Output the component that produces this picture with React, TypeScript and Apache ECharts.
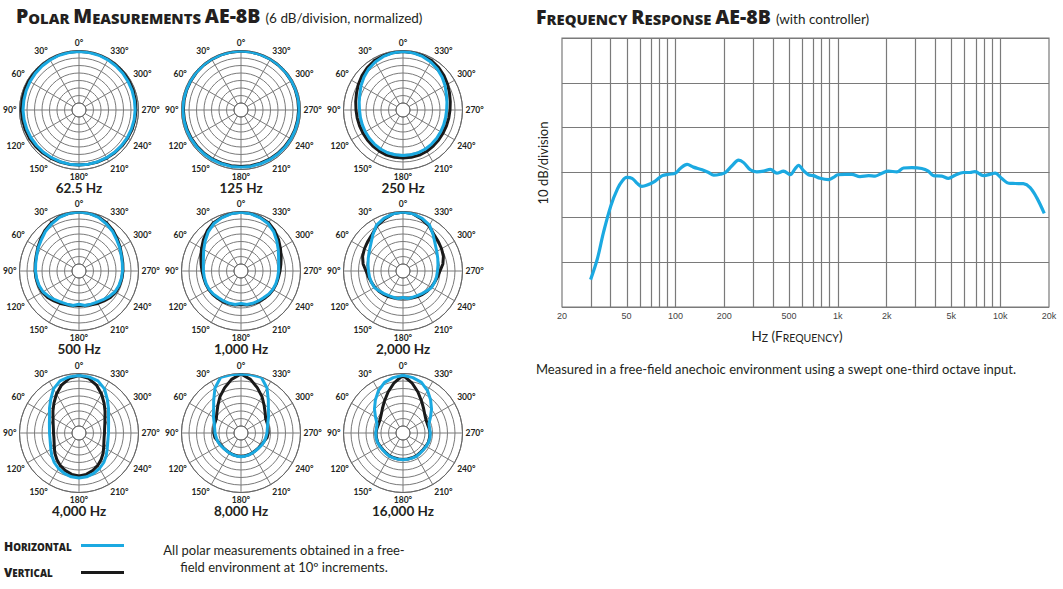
import React, { useEffect, useRef } from 'react';
import * as echarts from 'echarts';

// ---------- Polar data (dB, 6 dB/division, normalized) at 10° increments ----------
const polarAngles = [0, 10, 20, 30, 40, 50, 60, 70, 80, 90, 100, 110, 120, 130, 140, 150, 160, 170,
  180, 190, 200, 210, 220, 230, 240, 250, 260, 270, 280, 290, 300, 310, 320, 330, 340, 350];

const polarTitles = ['62.5 Hz', '125 Hz', '250 Hz', '500 Hz', '1,000 Hz', '2,000 Hz', '4,000 Hz', '8,000 Hz', '16,000 Hz'];

const h62 = [-0.8,-0.9,-1.0,-1.4,-1.7,-2.0,-2.3,-2.6,-2.8,-2.8,-3.0,-3.1,-3.2,-3.4,-3.5,-3.6,-3.6,-3.6,-3.6,-3.6,-3.6,-3.5,-3.4,-3.3,-3.1,-3.0,-2.8,-2.7,-2.6,-2.4,-2.2,-1.9,-1.6,-1.3,-1.0,-0.9];
const v62 = [-0.6,-0.6,-0.7,-0.8,-0.9,-1.0,-1.0,-1.2,-1.4,-1.5,-1.7,-1.8,-2.0,-2.3,-2.6,-3.0,-3.3,-3.4,-3.6,-3.6,-3.4,-3.2,-3.0,-2.8,-2.6,-2.3,-2.2,-2.0,-1.8,-1.5,-1.2,-1.0,-0.8,-0.7,-0.6,-0.6];
const h125 = [-0.5,-0.5,-0.6,-0.6,-0.7,-0.8,-0.9,-1.0,-1.0,-1.1,-1.2,-1.3,-1.4,-1.5,-1.6,-1.7,-1.8,-1.8,-1.9,-1.8,-1.8,-1.7,-1.6,-1.5,-1.4,-1.3,-1.2,-1.1,-1.0,-1.0,-0.9,-0.8,-0.7,-0.6,-0.6,-0.5];
const v125 = [-0.5,-0.6,-0.7,-0.8,-0.9,-1.0,-1.2,-1.3,-1.4,-1.5,-1.6,-1.8,-1.9,-2.0,-2.1,-2.2,-2.3,-2.4,-2.4,-2.4,-2.3,-2.2,-2.1,-2.0,-1.9,-1.7,-1.6,-1.5,-1.4,-1.3,-1.1,-1.0,-0.9,-0.7,-0.6,-0.5];
const h250 = [-0.8,-1.2,-2.0,-3.2,-4.8,-6.8,-8.8,-10.8,-12.0,-12.8,-13.0,-13.0,-12.8,-12.4,-12.0,-11.6,-11.2,-11.2,-11.2,-11.2,-11.3,-11.6,-12.0,-12.4,-12.8,-13.0,-13.0,-12.7,-11.9,-10.7,-8.7,-6.7,-4.8,-3.2,-2.0,-1.2];
const v250 = [-0.8,-1.0,-1.4,-2.0,-3.2,-4.8,-6.4,-8.0,-9.2,-10.0,-10.4,-10.6,-10.6,-10.4,-10.0,-9.6,-9.2,-9.2,-9.2,-9.2,-9.2,-9.5,-10.0,-10.4,-10.6,-10.6,-10.4,-10.0,-9.2,-8.0,-6.4,-4.8,-3.2,-2.0,-1.4,-1.0];
const h500 = [-0.4,-0.8,-2.0,-4.0,-6.0,-8.4,-10.0,-11.6,-12.4,-12.8,-13.2,-13.6,-14.4,-16.0,-17.6,-18.8,-19.4,-19.6,-21.0,-19.6,-19.4,-18.8,-17.6,-16.0,-14.4,-13.6,-13.2,-12.8,-12.4,-11.6,-10.0,-8.4,-6.0,-4.0,-2.0,-0.8];
const v500 = [-0.4,-0.8,-1.6,-3.2,-5.2,-7.6,-9.6,-11.2,-12.0,-12.4,-12.8,-13.2,-13.6,-14.8,-16.4,-17.6,-18.8,-19.6,-20.0,-19.6,-18.8,-17.6,-16.4,-14.8,-13.6,-13.2,-12.8,-12.4,-12.0,-11.2,-9.6,-7.6,-5.2,-3.2,-1.6,-0.8];
const h1k = [-0.6,-1.2,-2.4,-4.0,-6.8,-10.2,-13.2,-15.6,-17.0,-17.5,-17.8,-17.9,-18.2,-18.8,-19.6,-19.9,-20.1,-20.4,-21.6,-20.4,-20.1,-19.9,-19.6,-18.8,-18.2,-17.9,-17.8,-17.5,-17.0,-15.6,-13.2,-10.2,-6.8,-4.0,-2.4,-1.2];
const v1k = [-0.6,-1.0,-2.0,-3.2,-5.6,-8.4,-11.2,-13.4,-15.2,-16.4,-17.2,-17.5,-17.8,-18.2,-18.8,-19.2,-19.6,-20.0,-20.8,-20.0,-19.6,-19.2,-18.8,-18.2,-17.8,-17.5,-17.2,-16.4,-15.2,-13.4,-11.2,-8.4,-5.6,-3.2,-2.0,-1.0];
const h2k = [-0.4,-1.2,-2.8,-5.2,-10.0,-14.0,-16.4,-18.0,-19.2,-20.0,-20.4,-20.8,-21.2,-22.8,-24.0,-24.8,-25.2,-25.2,-26.4,-25.2,-25.2,-24.8,-24.0,-22.8,-21.2,-20.8,-20.4,-20.0,-19.2,-18.0,-16.4,-14.0,-10.0,-5.2,-2.8,-1.2];
const v2k = [-0.4,-1.2,-3.6,-6.0,-9.2,-10.8,-12.0,-13.2,-15.2,-18.0,-19.6,-20.8,-21.6,-22.4,-23.2,-24.0,-24.8,-25.6,-26.0,-25.6,-24.8,-24.0,-23.2,-22.4,-21.6,-20.8,-19.6,-18.0,-15.2,-13.2,-12.0,-10.8,-9.2,-6.0,-3.6,-1.2];
const h4k = [-1.6,-2.0,-3.2,-6.8,-12.4,-16.8,-20.4,-22.4,-23.6,-24.0,-24.0,-23.2,-21.6,-19.2,-16.8,-14.8,-13.2,-12.0,-11.6,-12.0,-13.2,-14.8,-16.8,-19.2,-21.6,-23.2,-24.0,-24.0,-23.6,-22.4,-20.4,-16.8,-12.4,-6.8,-3.2,-2.0];
const v4k = [-1.6,-3.2,-6.8,-11.6,-16.4,-20.4,-23.6,-25.6,-26.8,-27.2,-27.2,-26.4,-24.8,-22.4,-20.0,-17.6,-15.6,-14.0,-13.2,-14.0,-15.6,-17.6,-20.0,-22.4,-24.8,-26.4,-27.2,-27.2,-26.8,-25.6,-23.6,-20.4,-16.4,-11.6,-6.8,-3.2];
const h8k = [-0.4,-0.3,-0.2,-6.0,-13.6,-19.0,-22.2,-24.8,-26.2,-26.8,-27.4,-27.8,-28.4,-29.0,-29.2,-29.1,-29.0,-28.8,-28.6,-28.8,-29.0,-29.1,-29.2,-29.0,-28.4,-27.8,-27.4,-26.8,-26.2,-24.8,-22.2,-19.0,-13.6,-6.0,-0.2,-0.3];
const v8k = [-0.4,-4.0,-9.2,-14.0,-18.8,-22.4,-24.8,-25.2,-25.6,-25.8,-26.4,-28.0,-28.7,-29.2,-29.4,-29.3,-29.1,-29.0,-28.8,-29.0,-29.1,-29.3,-29.4,-29.2,-28.7,-28.0,-26.4,-25.8,-25.6,-25.2,-24.8,-22.4,-18.8,-14.0,-9.2,-4.0];
const h16k = [-1.4,-2.6,-4.5,-8.4,-13.2,-17.8,-22.2,-25.5,-26.0,-25.8,-25.7,-25.8,-26.2,-26.5,-26.4,-26.1,-26.2,-26.2,-26.2,-26.2,-26.2,-26.1,-26.4,-26.5,-26.2,-25.8,-25.7,-25.8,-26.0,-25.5,-22.2,-17.8,-13.2,-8.4,-4.5,-2.6];
const v16k = [-1.4,-6.8,-12.7,-18.0,-22.0,-24.8,-26.4,-26.8,-26.4,-26.0,-26.0,-26.0,-26.5,-26.8,-26.7,-26.4,-26.5,-26.5,-26.5,-26.5,-26.5,-26.4,-26.7,-26.8,-26.5,-26.0,-26.0,-26.0,-26.4,-26.8,-26.4,-24.8,-22.0,-18.0,-12.7,-6.8];

const horizontalSets = [h62, h125, h250, h500, h1k, h2k, h4k, h8k, h16k];
const verticalSets = [v62, v125, v250, v500, v1k, v2k, v4k, v8k, v16k];

// ---------- Frequency response data ----------
const frFreqs = [30, 33, 36, 40, 44, 47, 50, 54, 58, 62, 67, 75, 83, 91, 100, 107, 118, 129, 146, 160, 172, 189, 203, 223, 245, 263, 289, 317, 349, 384, 421, 463, 509, 547, 573, 615, 660, 709, 779, 877, 941, 1000, 1110, 1220, 1370, 1550, 1700, 1870, 2050, 2310, 2540, 2860, 3290, 3610, 3880, 4370, 4800, 5280, 5940, 6520, 7000, 7890, 8880, 9310, 10200, 11300, 12400, 13900, 15300, 16800, 18700];
const frLevels = [-23.9, -19.3, -13.4, -7.4, -3.6, -1.9, -1.1, -1.3, -2.4, -3.1, -2.8, -1.9, -0.7, -0.4, -0.15, 0.9, 1.8, 1.2, 0.6, 0, -0.6, -0.4, 0, 1.5, 2.75, 2.2, 0.6, 0.15, 0.3, 0.7, -0.15, 0.3, -0.5, 0.9, 1.6, 0.4, -0.5, -0.7, -1.3, -1.6, -1.1, -0.5, -0.4, -0.4, -0.9, -0.7, -0.8, -0.15, 0.3, 0.15, 1.0, 1.1, 0.9, 0.3, -0.7, -0.8, -1.3, -0.6, 0, 0, 0.2, -0.7, -0.3, -0.15, -1.3, -2.4, -2.45, -2.5, -3.35, -5.6, -9.1];
const frTickFreqs = [20, 50, 100, 200, 500, 1000, 2000, 5000, 10000, 20000];
const frGridFreqs = [30, 40, 50, 60, 70, 80, 90, 100, 200, 300, 400, 500, 600, 700, 800, 900, 1000, 2000, 3000, 4000, 5000, 6000, 7000, 8000, 9000, 10000];

const BLUE = '#1ba9e1';
const BLACK = '#1a1a1a';
const INK = '#231f20';
const GRID = '#7a7a7a';
const FONT = 'Lato, "Open Sans", sans-serif';
const HEAVY = '"Open Sans", "Noto Sans", sans-serif';

const polarCenters = [
  [79, 110], [241, 110], [403, 110],
  [79, 271], [241, 271], [403, 271],
  [79, 433], [241, 433], [403, 433],
];

function toPolar(values: number[]) {
  const pts = polarAngles.map((a, k) => [values[k], a]);
  pts.push([values[0], 360]);
  return pts;
}

function fmtFreq(v: number) {
  const f = Math.round(Math.pow(10, v));
  return f >= 1000 ? f / 1000 + 'k' : String(f);
}

function buildOption() {
  const polar = polarCenters.map((c) => ({ center: c, radius: [7, 59.5] }));
  const angleAxis = polarCenters.map((_, i) => ({
    polarIndex: i,
    type: 'value',
    min: 0,
    max: 360,
    interval: 30,
    startAngle: 90,
    clockwise: false,
    axisLine: { show: true, lineStyle: { color: '#666', width: 1 } },
    axisTick: { show: false },
    axisLabel: {
      margin: 3,
      formatter: (v: number) => v + '°',
      fontSize: 8.5,
      fontWeight: 'bold',
      color: INK,
      fontFamily: FONT,
    },
    splitLine: { show: true, lineStyle: { color: GRID, width: 1 } },
  }));
  const radiusAxis = polarCenters.map((_, i) => ({
    polarIndex: i,
    type: 'value',
    min: -42,
    max: 0,
    interval: 6,
    axisLine: { show: false },
    axisTick: { show: false },
    axisLabel: { show: false },
    splitLine: { show: true, lineStyle: { color: GRID, width: 1 } },
  }));

  const series: any[] = [];
  polarCenters.forEach((_, i) => {
    series.push({
      type: 'line', coordinateSystem: 'polar', polarIndex: i,
      data: toPolar(verticalSets[i]), symbol: 'none', smooth: false,
      lineStyle: { color: BLACK, width: 3 }, z: 3, silent: true,
    });
    series.push({
      type: 'line', coordinateSystem: 'polar', polarIndex: i,
      data: toPolar(horizontalSets[i]), symbol: 'none', smooth: false,
      lineStyle: { color: BLUE, width: 3 }, z: 4, silent: true,
    });
  });

  series.push({
    type: 'line', xAxisIndex: 0, yAxisIndex: 0, data: [], silent: true, z: 1,
    markLine: {
      silent: true, symbol: ['none', 'none'], label: { show: false },
      lineStyle: { color: GRID, width: 1.2, type: 'solid' },
      emphasis: { disabled: true },
      data: frGridFreqs.map((f) => ({ xAxis: Math.log10(f) })),
    },
  });
  series.push({
    type: 'line', xAxisIndex: 0, yAxisIndex: 0,
    data: frFreqs.map((f, i) => [Math.log10(f), frLevels[i]]),
    symbol: 'none', smooth: 0.35, silent: true, z: 5,
    lineStyle: { color: BLUE, width: 3.2 },
  });

  const tok = (fs: number, fw: any, ff: string) => ({ fontSize: fs, fontWeight: fw, fontFamily: ff, fill: INK, verticalAlign: 'bottom' });

  const graphic: any[] = [
    {
      type: 'text', x: 16, y: 15,
      style: {
        text: '{b|P}{s|OLAR }{b|M}{s|EASUREMENTS }{b|AE-8B }{n|(6 dB/division, normalized)}',
        rich: { b: tok(19.5, 800, HEAVY), s: tok(14.8, 800, HEAVY), n: tok(13.5, 'normal', FONT) },
        fill: INK, verticalAlign: 'middle', align: 'left',
      },
    },
    {
      type: 'text', x: 536, y: 16,
      style: {
        text: '{b|F}{s|REQUENCY }{b|R}{s|ESPONSE }{b|AE-8B }{n|(with controller)}',
        rich: { b: tok(19.5, 800, HEAVY), s: tok(14.8, 800, HEAVY), n: tok(13.5, 'normal', FONT) },
        fill: INK, verticalAlign: 'middle', align: 'left',
      },
    },
    {
      type: 'text', x: 543, y: 163, rotation: Math.PI / 2,
      style: { text: '10 dB/division', fontSize: 13, fontFamily: FONT, fill: INK, align: 'center', verticalAlign: 'middle' },
    },
    {
      type: 'text', x: 797, y: 336,
      style: {
        text: '{b|H}{s|Z} {b|(F}{s|REQUENCY}{b|)}',
        rich: { b: tok(13.5, 'normal', FONT), s: tok(10.5, 'normal', FONT) },
        fill: INK, align: 'center', verticalAlign: 'middle',
      },
    },
    {
      type: 'text', x: 536, y: 369,
      style: { text: 'Measured in a free-field anechoic environment using a swept one-third octave input.', fontSize: 13, fontFamily: FONT, fill: INK, align: 'left', verticalAlign: 'middle' },
    },
    {
      type: 'text', x: 4, y: 546,
      style: {
        text: '{b|H}{s|ORIZONTAL}',
        rich: { b: tok(12, 800, HEAVY), s: tok(9.8, 800, HEAVY) },
        fill: INK, align: 'left', verticalAlign: 'middle',
      },
    },
    {
      type: 'text', x: 4, y: 572,
      style: {
        text: '{b|V}{s|ERTICAL}',
        rich: { b: tok(12, 800, HEAVY), s: tok(9.8, 800, HEAVY) },
        fill: INK, align: 'left', verticalAlign: 'middle',
      },
    },
    { type: 'line', shape: { x1: 81, y1: 545.5, x2: 124, y2: 545.5 }, style: { stroke: BLUE, lineWidth: 3 } },
    { type: 'line', shape: { x1: 81, y1: 572.5, x2: 124, y2: 572.5 }, style: { stroke: BLACK, lineWidth: 3 } },
    {
      type: 'text', x: 284, y: 550,
      style: { text: 'All polar measurements obtained in a free-', fontSize: 13, fontFamily: FONT, fill: INK, align: 'center', verticalAlign: 'middle' },
    },
    {
      type: 'text', x: 284, y: 567,
      style: { text: 'field environment at 10º increments.', fontSize: 13, fontFamily: FONT, fill: INK, align: 'center', verticalAlign: 'middle' },
    },
  ];
  polarCenters.forEach((c, i) => {
    graphic.push({
      type: 'text', x: c[0], y: c[1] + 78,
      style: { text: polarTitles[i], fontSize: 13.5, fontWeight: 'bold', fontFamily: FONT, fill: INK, align: 'center', verticalAlign: 'middle' },
    });
  });

  return {
    animation: false,
    backgroundColor: '#ffffff',
    polar,
    angleAxis,
    radiusAxis,
    grid: [{ left: 562, top: 38, width: 487, height: 269, show: true, borderColor: GRID, borderWidth: 1.2, backgroundColor: 'transparent' }],
    xAxis: [{
      type: 'value', gridIndex: 0,
      min: Math.log10(20), max: Math.log10(20000),
      axisLine: { show: true, lineStyle: { color: GRID, width: 1.2 } },
      axisTick: { show: false },
      splitLine: { show: false },
      axisLabel: {
        customValues: frTickFreqs.map((f) => Math.log10(f)),
        formatter: fmtFreq,
        fontSize: 9, color: '#444', margin: 4, fontFamily: '"Liberation Sans", Arial, sans-serif',
      },
    }],
    yAxis: [{
      type: 'value', gridIndex: 0, min: -30, max: 30, interval: 10,
      axisLine: { show: false }, axisTick: { show: false }, axisLabel: { show: false },
      splitLine: { show: true, lineStyle: { color: GRID, width: 1.2 } },
    }],
    series,
    graphic,
  };
}

export default function App() {
  const ref = useRef<HTMLDivElement>(null);
  useEffect(() => {
    if (!ref.current) return;
    const chart = echarts.init(ref.current, null, { renderer: 'svg' });
    chart.setOption(buildOption() as any);
    return () => chart.dispose();
  }, []);
  return (
    <div
      ref={ref}
      style={{ position: 'fixed', left: 0, top: 0, width: 1063, height: 589, background: '#fff' }}
    />
  );
}
